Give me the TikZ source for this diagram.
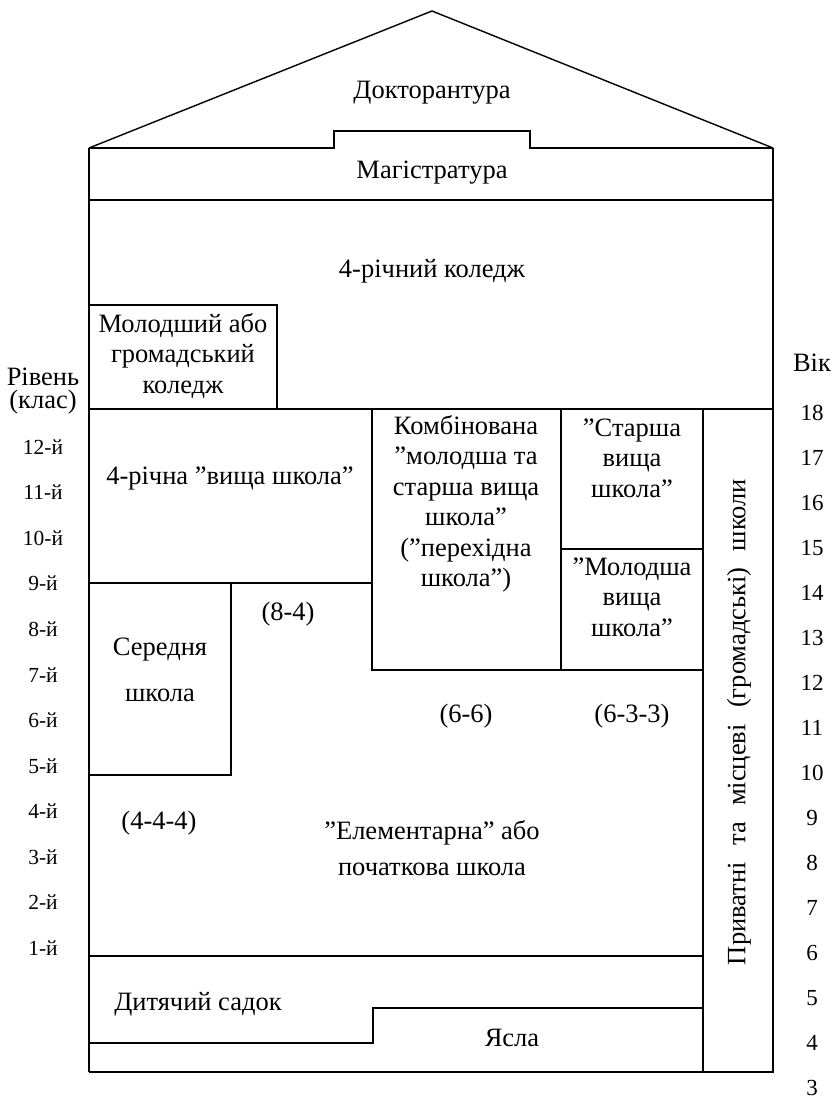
\documentclass[tikz,border=0pt]{standalone}
\usepackage{fontspec}
\setmainfont{Liberation Serif}
\begin{document}
\begin{tikzpicture}[x=1pt,y=-1pt,
  wall/.style={line width=1.4pt,line join=miter},
  lbl/.style={inner sep=0pt,align=center,font=\fontsize{26.5}{30.5}\selectfont},
  grade/.style={inner sep=0pt,font=\fontsize{21.5}{24}\selectfont},
  agenum/.style={inner sep=0pt,font=\fontsize{23}{24}\selectfont}]
\useasboundingbox (0,0) rectangle (834,1099);
% roof
\draw[wall] (89,148) -- (432,11) -- (773,148);
\draw[wall] (89,148) -- (334,148) -- (334,131) -- (530,131) -- (530,148) -- (773,148);
% outer walls
\draw[wall] (89,148) -- (89,1072);
\draw[wall] (773,148) -- (773,1072) -- (703,1072);
\draw[wall] (89,200) -- (773,200);
\draw[wall] (89,409) -- (773,409);
% junior college
\draw[wall] (89,305) -- (277,305) -- (277,409);
% combined and 6-3-3
\draw[wall] (372,409) -- (372,670) -- (703,670);
\draw[wall] (561,409) -- (561,670);
\draw[wall] (561,549) -- (703,549);
% private column
\draw[wall] (703,409) -- (703,1072);
% 4-year high school
\draw[wall] (89,583) -- (372,583);
% middle school
\draw[wall] (231,583) -- (231,775) -- (89,775);
% kindergarten / nursery
\draw[wall] (89,956) -- (703,956);
\draw[wall] (89,1043) -- (373,1043) -- (373,1008) -- (703,1008);
\draw[line width=2.6pt] (89,1072) -- (703,1072);
% texts
\node[lbl] (doc) at (432,93) {Докторантура};
\node[lbl] (mag) at (432,173) {Магістратура};
\node[lbl] (col4) at (432,271) {4-річний коледж};
\node[lbl] (jcol) at (183,356) {Молодший або\\громадський\\коледж};
\node[lbl] (hs4) at (230,479) {4-річна ”вища школа”};
\node[lbl] (comb) at (466,504) {Комбінована\\”молодша та\\старша вища\\школа”\\(”перехідна\\школа”)};
\node[lbl] (shs) at (632,458) {”Старша\\вища\\школа”};
\node[lbl] (jhs) at (632,597) {”Молодша\\вища\\школа”};
\node[lbl] (mid) at (160,670) {Середня\\[15pt]школа};
\node[lbl] (e84) at (288,614) {(8-4)};
\node[lbl] (e66) at (466,716) {(6-6)};
\node[lbl] (e633) at (632,716) {(6-3-3)};
\node[lbl] (e444) at (159,823) {(4-4-4)};
\node[lbl] (elem) at (432,848) {”Елементарна” або\\[5pt]початкова школа};
\node[lbl] (kind) at (198,1004) {Дитячий садок};
\node[lbl] (nurs) at (512,1038) {Ясла};
\node[lbl,rotate=90] (priv) at (739,722) {\makebox[486pt][s]{Приватні та місцеві (громадські) школи}};
\node[lbl,font=\fontsize{26.5}{23}\selectfont] (lev) at (43,391) {Рівень\\(клас)};
\node[lbl] (age) at (812,363) {Вік};
% grades
\foreach \g [count=\i from 0] in {12,11,10,9,8,7,6,5,4,3,2,1}
  \node[grade] (g\g) at (43,447+45.55*\i) {\g-й};
% ages
\foreach \a [count=\i from 0] in {18,17,16,15,14,13,12,11,10,9,8,7,6,5,4,3}
  \node[agenum] (a\a) at (812,413+45.0*\i) {\a};
\end{tikzpicture}
\end{document}
